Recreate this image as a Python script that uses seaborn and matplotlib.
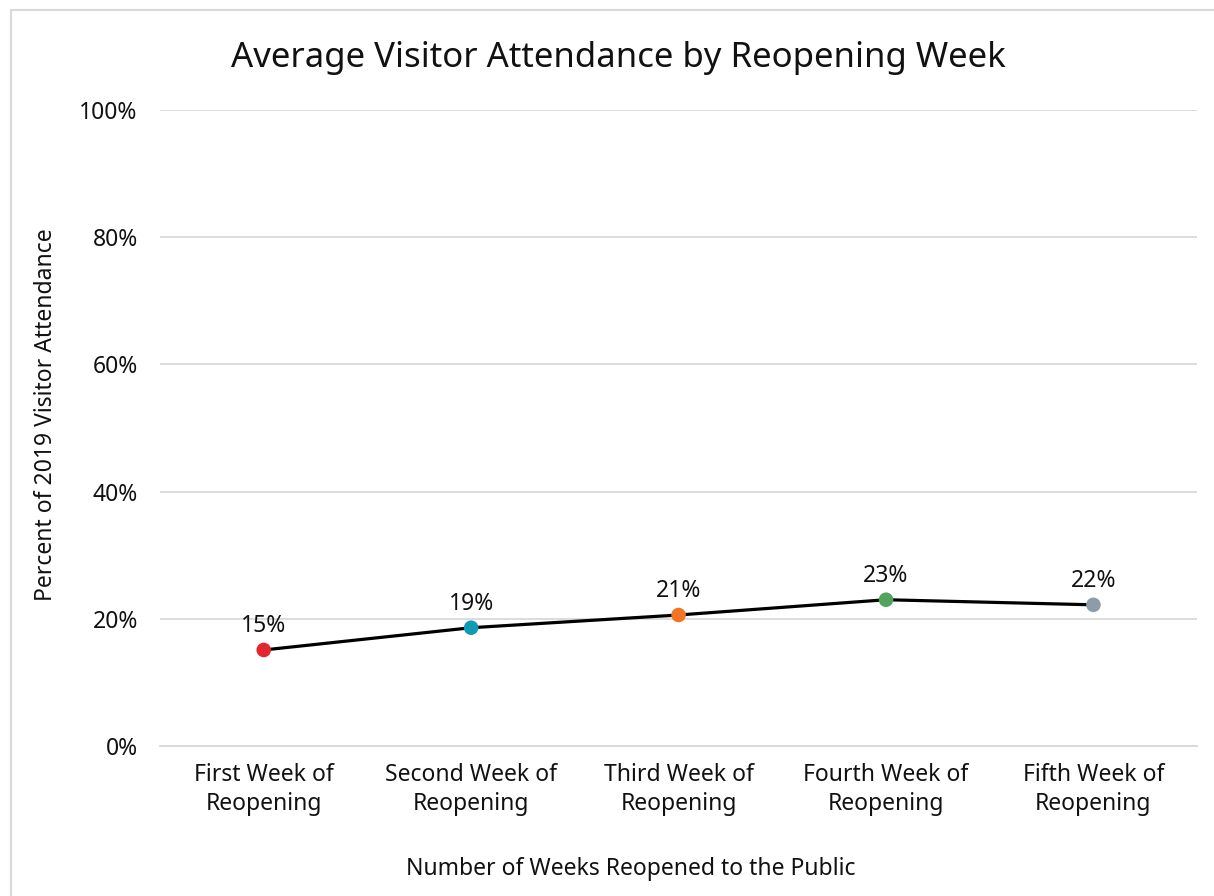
import pandas as pd
import matplotlib.pyplot as plt
import matplotlib.patches as patches
import seaborn as sns

# Chart data
weeks = ['First Week of\nReopening', 'Second Week of\nReopening', 'Third Week of\nReopening',
         'Fourth Week of\nReopening', 'Fifth Week of\nReopening']
attendance = [15.1, 18.6, 20.6, 23.0, 22.2]
point_labels = ['15%', '19%', '21%', '23%', '22%']
point_colors = ['#E3262E', '#0F9BB4', '#F37521', '#52A35B', '#8C9CA9']
y_ticks = [0, 20, 40, 60, 80, 100]

df = pd.DataFrame({'pos': range(len(weeks)), 'week': weeks, 'pct': attendance})

sns.set_style('white')
plt.rcParams['font.family'] = ['Noto Sans', 'DejaVu Sans']

fig = plt.figure(figsize=(12.14, 8.96), dpi=100)
ax = fig.add_axes([0.1318, 0.1674, 0.9861 - 0.1318, 0.8772 - 0.1674])

# outer frame
fig.patches.append(patches.Rectangle((11 / 1214, -0.05), 1.2, 1 - 10 / 896 + 0.05,
                                     transform=fig.transFigure, fill=False,
                                     edgecolor='#D9D9D9', linewidth=1.5, zorder=0))

sns.lineplot(data=df, x='pos', y='pct', color='black', linewidth=2.3, ax=ax, zorder=3)
sns.scatterplot(data=df, x='pos', y='pct', hue='week', palette=point_colors, s=110,
                edgecolor='none', legend=False, ax=ax, zorder=4)

for x, y, lab in zip(df['pos'], df['pct'], point_labels):
    ax.annotate(lab, (x, y), xytext=(0, 17), textcoords='offset points',
                ha='center', va='center', fontsize=16.5, color='#111111')

ax.set_xlim(-0.5, len(weeks) - 0.5)
ax.set_ylim(0, 100)
ax.set_yticks(y_ticks)
ax.set_yticklabels([f'{t}%' for t in y_ticks], fontsize=16.5, color='#111111')
ax.set_xticks(range(len(weeks)))
ax.set_xticklabels(weeks, fontsize=16.5, color='#111111', linespacing=1.3)
ax.set_xticks([i - 0.5 for i in range(len(weeks) + 1)], minor=True)
ax.tick_params(axis='x', which='major', length=0, pad=12)
ax.tick_params(axis='x', which='minor', length=7, width=1.2, color='#D9D9D9')
ax.tick_params(axis='y', length=0, pad=16)

ax.yaxis.grid(True, color='#D9D9D9', linewidth=1.3)
ax.set_axisbelow(True)
for side in ['top', 'right', 'left']:
    ax.spines[side].set_visible(False)
ax.spines['bottom'].set_color('#D9D9D9')
ax.spines['bottom'].set_linewidth(1.3)

ax.set_xlabel('Number of Weeks Reopened to the Public', fontsize=16.5, color='#111111')
ax.xaxis.set_label_coords((631 - 160) / 1037, -0.175)
ax.set_ylabel('Percent of 2019 Visitor Attendance', fontsize=16.5, color='#111111')
ax.yaxis.set_label_coords(-(160 - 58) / 1037, (746 - 415) / 636)
fig.text(0.509, 0.935, 'Average Visitor Attendance by Reopening Week', ha='center', va='center',
         fontsize=25, color='#111111')

fig.savefig('out.png', dpi=100)
